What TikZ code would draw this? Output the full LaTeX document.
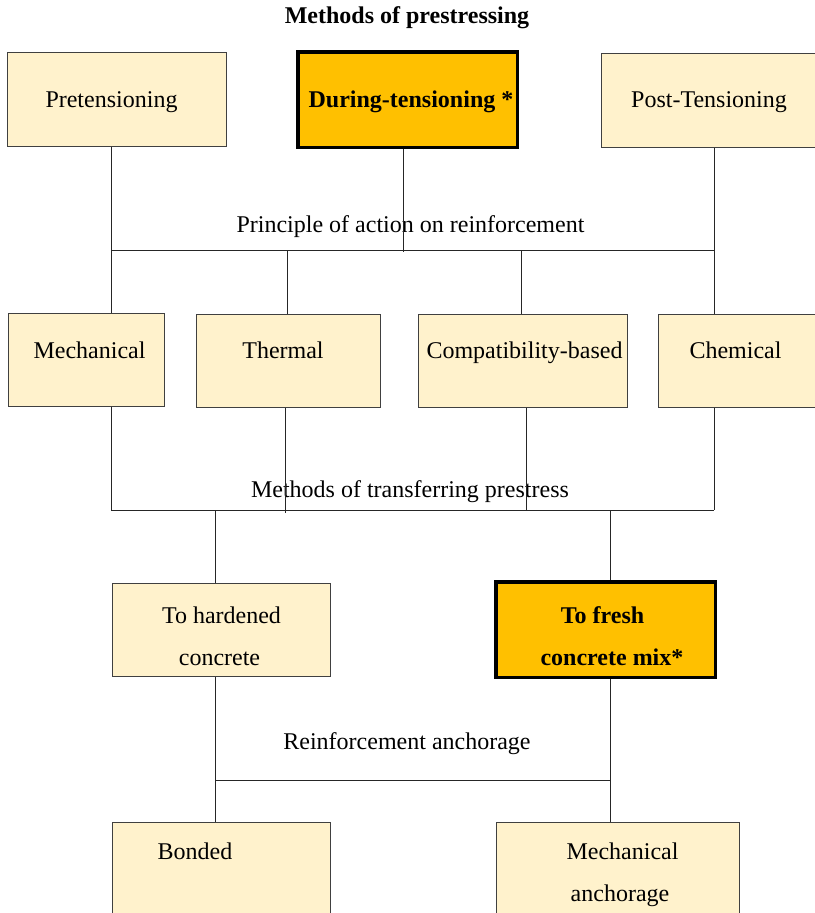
\documentclass[tikz,border=0pt]{standalone}
\usepackage{fontspec}
\setmainfont{Liberation Serif}
\definecolor{boxfill}{HTML}{FFF2CC}
\definecolor{boxline}{HTML}{404040}
\definecolor{hifill}{HTML}{FFC000}
\begin{document}
\begin{tikzpicture}[x=1pt,y=-1pt,
  box/.style={draw=boxline,fill=boxfill,line width=1pt,inner sep=0pt,rectangle},
  hibox/.style={draw=black,fill=hifill,line width=3.5pt,inner sep=0pt,rectangle},
  txt/.style={font=\fontsize{24}{28}\selectfont,inner sep=0pt,anchor=base},
  btxt/.style={txt,font=\fontsize{24}{28}\selectfont\bfseries},
  conn/.style={draw=black!85,line width=0.9pt}]
\useasboundingbox (0,0) rectangle (814,913);
\fill[white] (0,0) rectangle (814,913);

% title
\node[btxt] (title) at (407,23) {Methods of prestressing};

% row 1
\node[box,minimum width=219pt,minimum height=94pt] (pre) at (116.5,99.5) {};
\node[hibox,minimum width=219.5pt,minimum height=95.5pt] (dur) at (407.75,99.75) {};
\node[box,minimum width=240pt,minimum height=93.5pt] (post) at (721,100.25) {};
\node[txt] (pret) at (111.5,107.5) {Pretensioning};
\node[btxt] (durt) at (411,107.5) {During-tensioning *};
\node[txt] (postt) at (709,107.5) {Post-Tensioning};

% row 2
\node[box,minimum width=156pt,minimum height=93pt] (mech) at (86,359.5) {};
\node[box,minimum width=184.5pt,minimum height=93pt] (therm) at (288.25,360.5) {};
\node[box,minimum width=209pt,minimum height=93pt] (comp) at (523,360.5) {};
\node[box,minimum width=182pt,minimum height=93pt] (chem) at (749,360.5) {};
\node[txt] (mecht) at (89.5,358) {Mechanical};
\node[txt] (thermt) at (283,358) {Thermal};
\node[txt] (compt) at (524.5,358) {Compatibility-based};
\node[txt] (chemt) at (735.5,358) {Chemical};

% row 3
\node[box,minimum width=218pt,minimum height=93.5pt] (hard) at (221,629.75) {};
\node[hibox,minimum width=219.5pt,minimum height=95.5pt] (fresh) at (605.75,629.75) {};
\node[txt] (hardt1) at (221.5,623) {To hardened};
\node[txt] (hardt2) at (219.5,665.5) {concrete};
\node[btxt] (fresht1) at (602.5,623) {To fresh};
\node[btxt] (fresht2) at (612,665.5) {concrete mix*};

% row 4
\node[box,minimum width=218pt,minimum height=138pt] (bond) at (221,891) {};
\node[box,minimum width=243pt,minimum height=138pt] (manch) at (617.5,891) {};
\node[txt] (bondt) at (195,859.5) {Bonded};
\node[txt] (mancht1) at (622.5,859.5) {Mechanical};
\node[txt] (mancht2) at (620,901.5) {anchorage};

% bus labels
\node[txt] (lab1) at (410.5,232.5) {Principle of action on reinforcement};
\node[txt] (lab2) at (410,497) {Methods of transferring prestress};
\node[txt] (lab3) at (407,749) {Reinforcement anchorage};

% bus 1
\coordinate (a1) at (111,250);
\coordinate (a2) at (403,250);
\coordinate (a3) at (714,250);
\coordinate (a4) at (287,250);
\coordinate (a5) at (521,250);
\draw[conn] (pre.south -| a1) -- (a1);
\draw[conn] (dur.south -| a2) -- ([yshift=-2pt]a2);
\draw[conn] (post.south -| a3) -- (a3);
\draw[conn] (a1) -- (a3);
\draw[conn] (a1) -- (a1 |- mech.north);
\draw[conn] (a4) -- (a4 |- therm.north);
\draw[conn] (a5) -- (a5 |- comp.north);
\draw[conn] (a3) -- (a3 |- chem.north);

% bus 2
\coordinate (b1) at (111,510);
\coordinate (b2) at (285,510);
\coordinate (b3) at (526,510);
\coordinate (b4) at (714,510);
\coordinate (b5) at (215.5,510);
\coordinate (b6) at (610.5,510);
\draw[conn] (mech.south -| b1) -- (b1);
\draw[conn] (therm.south -| b2) -- ([yshift=-3pt]b2);
\draw[conn] (comp.south -| b3) -- (b3);
\draw[conn] (chem.south -| b4) -- (b4);
\draw[conn] (b1) -- (b4);
\draw[conn] (b5) -- (b5 |- hard.north);
\draw[conn] (b6) -- (b6 |- fresh.north);

% bus 3
\coordinate (c1) at (215.5,780);
\coordinate (c2) at (610.5,780);
\draw[conn] (hard.south -| c1) -- (c1) -- (c1 |- bond.north);
\draw[conn] (fresh.south -| c2) -- (c2) -- (c2 |- manch.north);
\draw[conn] (c1) -- (c2);
\end{tikzpicture}
\end{document}
